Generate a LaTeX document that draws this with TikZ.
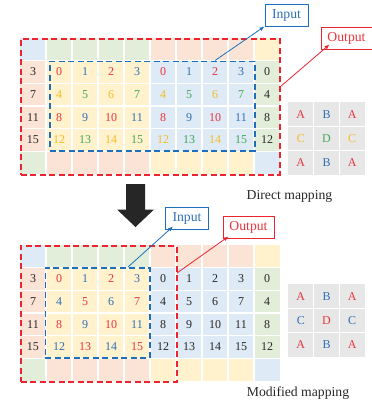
\documentclass[tikz,border=0pt]{standalone}
\usepackage{fontspec}
\setmainfont{Liberation Serif}
\usetikzlibrary{arrows.meta}
\definecolor{fB}{RGB}{222,234,246}
\definecolor{fG}{RGB}{226,238,218}
\definecolor{fP}{RGB}{251,228,214}
\definecolor{fY}{RGB}{255,242,204}
\definecolor{fGray}{RGB}{231,231,231}
\definecolor{tR}{RGB}{232,52,62}
\definecolor{tB}{RGB}{46,112,182}
\definecolor{tY}{RGB}{244,188,40}
\definecolor{tG}{RGB}{66,168,88}
\definecolor{tK}{RGB}{40,40,40}
\definecolor{lR}{RGB}{236,36,48}
\definecolor{lB}{RGB}{30,110,190}
\newcommand\mygridfill[1]{%
  \fill[fB] (20,#1) rectangle (46,#1+22.67);
  \fill[fG] (46,#1) rectangle (150,#1+22.67);
  \fill[fP] (150,#1) rectangle (254,#1+22.67);
  \fill[fY] (254,#1) rectangle (280,#1+22.67);
  \fill[fP] (20,#1+22.67) rectangle (46,#1+113.33);
  \fill[fY] (46,#1+22.67) rectangle (150,#1+113.33);
  \fill[fB] (150,#1+22.67) rectangle (254,#1+113.33);
  \fill[fG] (254,#1+22.67) rectangle (280,#1+113.33);
  \fill[fG] (20,#1+113.33) rectangle (46,#1+136);
  \fill[fP] (46,#1+113.33) rectangle (150,#1+136);
  \fill[fY] (150,#1+113.33) rectangle (254,#1+136);
  \fill[fB] (254,#1+113.33) rectangle (280,#1+136);
  \foreach \k in {1,...,9} {\draw[white,line width=1.2pt] (20+26*\k,#1) -- (20+26*\k,#1+136);}
  \foreach \k in {1,...,5} {\draw[white,line width=1.2pt] (20,#1+22.667*\k) -- (280,#1+22.667*\k);}
}
\newcommand\mysmallgrid[1]{%
  \fill[fGray] (288,#1) rectangle (365,#1+73);
  \foreach \k in {1,2} {\draw[white,line width=1.2pt] (288+25.667*\k,#1) -- (288+25.667*\k,#1+73);
    \draw[white,line width=1.2pt] (288,#1+24.333*\k) -- (365,#1+24.333*\k);}
}
\tikzset{
  num/.style={font=\fontsize{12}{12}\selectfont, inner sep=0pt, anchor=center},
  lbl/.style={font=\fontsize{13.7}{14}\selectfont, text=tK, inner sep=0pt},
  reddash/.style={draw=lR, line width=1.8pt, dash pattern=on 6pt off 3.5pt, inner sep=0pt, anchor=north west},
  bluedash/.style={draw=lB, line width=1.8pt, dash pattern=on 6pt off 3.5pt, inner sep=0pt, anchor=north west},
  inbox/.style={draw=lB, fill=white, line width=0.9pt, text=tB, font=\fontsize{13.7}{14}\selectfont, minimum width=43pt, minimum height=22pt, inner sep=0pt},
  outbox/.style={draw=lR, fill=white, line width=0.9pt, text=tR, font=\fontsize{13.7}{14}\selectfont, minimum width=51pt, minimum height=22pt, inner sep=0pt},
  inarrow/.style={draw=lB, line width=0.8pt, -{Latex[length=5pt,width=4pt]}},
  outarrow/.style={draw=lR, line width=0.8pt, -{Latex[length=5pt,width=4pt]}},
}
\begin{document}
\begin{tikzpicture}[x=1pt,y=-1pt]
\useasboundingbox (0,0) rectangle (372,407);
% ---------- top grid ----------
\mygridfill{38}
\foreach \i in {0,...,3} {
  \pgfmathtruncatemacro\va{4*\i+3}
  \pgfmathtruncatemacro\vb{4*\i}
  \node[num,text=tK] (tl\i) at (33,38+22.667*\i+34) {\va};
  \node[num,text=tK] (tr\i) at (267,38+22.667*\i+34) {\vb};
  \foreach \j in {0,...,3} {
    \pgfmathtruncatemacro\v{4*\i+\j}
    \pgfmathsetmacro\cc{ifthenelse(mod(\i,2)==0, ifthenelse(mod(\j,2)==0,"tR","tB"), ifthenelse(mod(\j,2)==0,"tY","tG"))}
    \node[num,text=\cc] (ta\i\j) at (59+26*\j,38+22.667*\i+34) {\v};
    \node[num,text=\cc] (tb\i\j) at (163+26*\j,38+22.667*\i+34) {\v};
  }
}
\node[reddash, minimum width=259pt, minimum height=136pt] (redT) at (20,38) {};
\node[bluedash, minimum width=205pt, minimum height=89.5pt] (blueT) at (49,60.5) {};
\node[inbox] (inT) at (286.5,15) {Input};
\node[outbox] (outT) at (346.5,38) {Output};
\coordinate (sIT) at (215,60.5);
\coordinate (sOT) at (280,87);
\draw[inarrow] (sIT) -- (inT.south west);
\draw[outarrow] (sOT) -- ([xshift=9pt,yshift=5pt]outT.south west);
\mysmallgrid{102}
\foreach \r/\a/\b/\ca/\cb in {0/A/B/tR/tB,1/C/D/tY/tG,2/A/B/tR/tB} {
  \node[num,text=\ca] (sa\r) at (300.8,114.2+24.333*\r) {\a};
  \node[num,text=\cb] (sb\r) at (326.5,114.2+24.333*\r) {\b};
  \node[num,text=\ca] (sc\r) at (352.2,114.2+24.333*\r) {\a};
}
\node[lbl] (dm) at (289.5,196) {Direct mapping};
% ---------- big arrow ----------
\fill[tK!95!black] (126,184) -- (145,184) -- (145,209.5) -- (154,209.5) -- (135.5,227) -- (117,209.5) -- (126,209.5) -- cycle;
% ---------- bottom grid ----------
\mygridfill{245}
\foreach \i in {0,...,3} {
  \pgfmathtruncatemacro\va{4*\i+3}
  \pgfmathtruncatemacro\vb{4*\i}
  \node[num,text=tK] (bl\i) at (33,245+22.667*\i+34) {\va};
  \node[num,text=tK] (br\i) at (267,245+22.667*\i+34) {\vb};
  \foreach \j in {0,...,3} {
    \pgfmathtruncatemacro\v{4*\i+\j}
    \pgfmathsetmacro\cc{ifthenelse(mod(\i+\j,2)==0,"tR","tB")}
    \node[num,text=\cc] (ba\i\j) at (59+26*\j,245+22.667*\i+34) {\v};
    \node[num,text=tK] (bb\i\j) at (163+26*\j,245+22.667*\i+34) {\v};
  }
}
\node[reddash, minimum width=156pt, minimum height=136pt] (redB) at (20,245) {};
\node[bluedash, minimum width=104.5pt, minimum height=90pt] (blueB) at (44.5,267) {};
\node[inbox] (inB) at (187,218) {Input};
\node[outbox] (outB) at (248.5,227) {Output};
\coordinate (sIB) at (128,267);
\coordinate (sOB) at (177,273);
\draw[inarrow] (sIB) -- ([xshift=8pt,yshift=3pt]inB.south west);
\draw[outarrow] (sOB) -- ([xshift=6pt,yshift=2pt]outB.south west);
\mysmallgrid{284}
\foreach \r/\a/\b/\ca/\cb in {0/A/B/tR/tB,1/C/D/tB/tR,2/A/B/tR/tB} {
  \node[num,text=\ca] (ma\r) at (300.8,296.2+24.333*\r) {\a};
  \node[num,text=\cb] (mb\r) at (326.5,296.2+24.333*\r) {\b};
  \node[num,text=\ca] (mc\r) at (352.2,296.2+24.333*\r) {\a};
}
\node[lbl] (mm) at (298,393) {Modified mapping};
\end{tikzpicture}
\end{document}
